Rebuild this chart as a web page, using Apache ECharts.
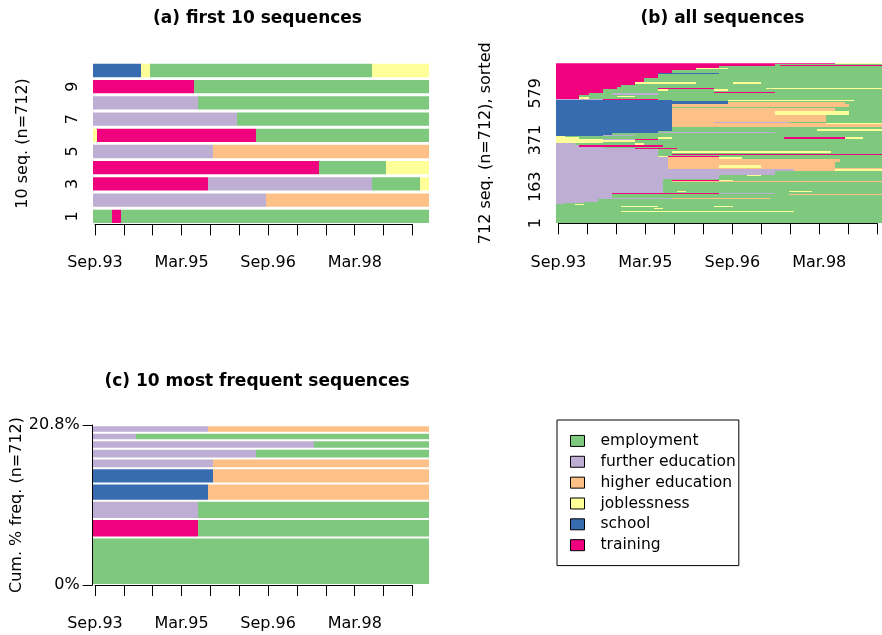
<!DOCTYPE html>
<html>
<head>
<meta charset="utf-8">
<script src="https://cdn.jsdelivr.net/npm/echarts@6/dist/echarts.min.js"></script>
<style>html,body{margin:0;padding:0;background:#fff}#c{width:882px;height:635px}</style>
</head>
<body>
<div id="c"></div>
<script>
// ---------- data ----------
const STATES = ['EM', 'FE', 'HE', 'JL', 'SC', 'TR'];
const STATE_LABELS = ['employment', 'further education', 'higher education', 'joblessness', 'school', 'training'];
const STATE_COLORS = ['#7FC97F', '#BEAED4', '#FDC086', '#FFFF99', '#386CB0', '#F0027F'];
const N_MONTHS = 70;
const TICK_MONTHS = [0, 6, 12, 18, 24, 30, 36, 42, 48, 54, 60, 66];
const TICK_LABELS = ['Sep.93', '', '', 'Mar.95', '', '', 'Sep.96', '', '', 'Mar.98', '', ''];

// (a) first 10 sequences, bottom (1) to top (10); "STATEend" spells in months
const FIRST10 = [
  'EM4 TR6 EM70',
  'FE36 HE70',
  'TR24 FE58 EM68 JL70',
  'TR47 EM61 JL70',
  'FE25 HE70',
  'JL1 TR34 EM70',
  'FE30 EM70',
  'FE22 EM70',
  'TR21 EM70',
  'SC10 JL12 EM58 JL70'
];
const Y_LABELS_A = [1, 3, 5, 7, 9];

// (b) all 712 sequences, sorted: groups of rows [fromRow, toRow, spells]
const ALL_BANDS = [
  [0, 50, 'EM70'],
  [50, 56, 'EM14 JL51 EM70'],
  [56, 63, 'EM70'],
  [63, 67, 'EM21 JL23 EM70'],
  [67, 73, 'EM70'],
  [73, 78, 'EM14 JL22 EM34 JL38 EM70'],
  [78, 81, 'EM70'],
  [81, 85, 'EM4 JL6 EM70'],
  [85, 89, 'FE2 EM70'],
  [89, 95, 'FE6 EM70'],
  [95, 106, 'FE9 EM70'],
  [106, 110, 'FE9 EM34 HE46 EM48 JL51 EM70'],
  [110, 114, 'FE25 HE46 EM70'],
  [114, 124, 'FE12 EM70'],
  [124, 127, 'FE12 EM18 JL19 EM70'],
  [127, 131, 'FE12 EM50 HE70'],
  [131, 135, 'FE12 TR35 FE47 EM70'],
  [135, 139, 'FE23 EM70'],
  [139, 142, 'FE23 EM26 JL28 EM50 JL55 EM70'],
  [142, 182, 'FE23 EM70'],
  [182, 187, 'FE23 EM25 HE70'],
  [187, 192, 'FE23 EM25 TR35 JL38 EM70'],
  [192, 199, 'FE23 EM70'],
  [199, 212, 'FE35 EM70'],
  [212, 217, 'FE35 EM41 JL44 EM70'],
  [217, 232, 'FE47 EM70'],
  [232, 240, 'FE51 HE60 JL70'],
  [240, 248, 'FE24 HE70'],
  [248, 258, 'FE24 HE35 JL44 HE60 EM70'],
  [258, 272, 'FE24 HE60 EM70'],
  [272, 288, 'FE24 HE61 EM70'],
  [288, 295, 'FE24 HE35 JL40 EM70'],
  [295, 300, 'FE22 JL24 TR35 EM70'],
  [300, 305, 'FE22 EM70'],
  [305, 309, 'FE22 EM25 TR70'],
  [309, 315, 'FE22 EM70'],
  [315, 321, 'FE22 EM25 JL59 EM70'],
  [321, 330, 'FE22 EM70'],
  [330, 336, 'FE17 TR26 EM70'],
  [336, 341, 'FE10 EM70'],
  [341, 348, 'FE5 TR23 EM70'],
  [348, 356, 'FE4 EM17 JL19 EM70'],
  [356, 364, 'JL10 EM70'],
  [364, 370, 'JL17 EM70'],
  [370, 376, 'JL10 FE17 TR22 EM70'],
  [376, 382, 'JL5 EM22 JL25 EM49 TR62 JL66 EM70'],
  [382, 388, 'JL2 EM70'],
  [388, 394, 'SC10 FE17 EM70'],
  [394, 400, 'SC12 EM70'],
  [400, 406, 'SC22 FE47 EM70'],
  [406, 412, 'SC22 EM70'],
  [412, 418, 'SC25 EM56 JL70'],
  [418, 430, 'SC25 EM70'],
  [430, 440, 'SC25 HE70'],
  [440, 445, 'SC25 HE58 JL70'],
  [445, 449, 'SC25 HE34 FE50 EM70'],
  [449, 462, 'SC25 HE58 EM70'],
  [462, 466, 'SC25 EM70'],
  [466, 484, 'SC25 HE58 EM70'],
  [484, 500, 'SC25 HE47 JL63 EM70'],
  [500, 512, 'SC25 HE60 EM70'],
  [512, 517, 'SC25 EM70'],
  [517, 530, 'SC25 HE63 EM70'],
  [530, 538, 'SC37 HE62 EM70'],
  [538, 545, 'SC37 EM70'],
  [545, 549, 'SC25 EM37 JL64 EM70'],
  [549, 553, 'FE10 TR22 EM70'],
  [553, 560, 'TR5 JL7 EM70'],
  [560, 566, 'TR5 EM13 JL17 EM70'],
  [566, 571, 'TR5 EM70'],
  [571, 578, 'TR7 EM12 FE22 EM70'],
  [578, 584, 'TR10 EM34 TR47 EM70'],
  [584, 590, 'TR10 EM70'],
  [590, 596, 'TR10 EM22 JL24 EM34 JL37 EM70'],
  [596, 602, 'TR13 EM22 TR34 EM45 JL70'],
  [602, 608, 'TR13 EM70'],
  [608, 615, 'TR14 EM70'],
  [615, 622, 'TR17 EM70'],
  [622, 628, 'TR17 JL30 EM38 JL44 EM70'],
  [628, 645, 'TR19 EM70'],
  [645, 664, 'TR22 EM70'],
  [664, 670, 'TR22 SC35 EM70'],
  [670, 680, 'TR25 EM70'],
  [680, 688, 'TR30 EM70'],
  [688, 693, 'TR30 JL37 EM70'],
  [693, 700, 'TR35 EM70'],
  [700, 703, 'TR47 EM48 TR70'],
  [703, 708, 'TR47 EM70'],
  [708, 712, 'TR60 JL70']
];
const N_SEQ = 712;
const Y_LABELS_B = [1, 163, 371, 579];

// (c) 10 most frequent sequences, bottom to top, with % frequency
const TOP10 = [
  'EM70',
  'TR22 EM70',
  'FE22 EM70',
  'SC24 HE70',
  'SC25 HE70',
  'FE25 HE70',
  'FE34 EM70',
  'FE46 EM70',
  'FE9 EM70',
  'FE24 HE70'
];
const TOP10_FREQ = [6.18, 2.39, 2.39, 2.25, 1.97, 1.26, 1.26, 1.12, 0.98, 0.98];
const Y_MAX_C = 20.8;
const Y_LABELS_C = ['0%', '20.8%'];

// ---------- helpers ----------
function parseSpells(str) {
  let start = 0;
  return str.split(' ').map(tok => {
    const st = tok.slice(0, 2), end = +tok.slice(2);
    const s = [st, start, end];
    start = end;
    return s;
  });
}
const FONT = 'DejaVu Sans';
const TXT = { color: '#000', fontFamily: FONT, fontSize: 16 };

function buildData(panel) {
  const out = STATES.map(() => []);
  if (panel === 'a') {
    FIRST10.forEach((str, i) => parseSpells(str).forEach(([st, a, b]) =>
      out[STATES.indexOf(st)].push([a, b, i + 0.09, i + 0.91])));
  } else if (panel === 'b') {
    ALL_BANDS.forEach(([r0, r1, str]) => parseSpells(str).forEach(([st, a, b]) =>
      out[STATES.indexOf(st)].push([a, b, r0, r1])));
  } else {
    let cum = 0;
    TOP10.forEach((str, i) => {
      const f = TOP10_FREQ[i];
      parseSpells(str).forEach(([st, a, b]) =>
        out[STATES.indexOf(st)].push([a, b, cum, cum + f]));
      cum += f;
    });
  }
  return out;
}

function makeRender(inset, roundY) {
  return function (params, api) {
    const p0 = api.coord([api.value(0), api.value(2)]);
    const p1 = api.coord([api.value(1), api.value(3)]);
    const x0 = Math.round(p0[0]), x1 = Math.round(p1[0]);
    let yb = p0[1], yt = p1[1];
    if (roundY) { yb = Math.round(yb); yt = Math.round(yt); }
    const h = yb - yt - 2 * inset;
    if (h <= 0 || x1 <= x0) return null;
    return {
      type: 'rect',
      shape: { x: x0, y: yt + inset, width: x1 - x0, height: h },
      style: { fill: api.visual('color') }
    };
  };
}

// ---------- layout ----------
const PX_A = 4.81, PX_B = 4.83;
const grids = [
  { left: 92.6, top: 62.4, width: N_MONTHS * PX_A, height: 162 },          // 0 plot a
  { left: 95.0, top: 62.4, width: 66 * PX_A, height: 162 },                // 1 axis a
  { left: 556, top: 63.3, width: N_MONTHS * PX_B, height: 160 },           // 2 plot b
  { left: 558.4, top: 63.3, width: 66 * PX_B, height: 160 },               // 3 axis b
  { left: 92.6, top: 425, width: N_MONTHS * PX_A, height: 160 },           // 4 plot c
  { left: 95.0, top: 425, width: 66 * PX_A, height: 160 }                  // 5 axis c
];

function timeAxis(gi, offset) {
  return {
    type: 'value', gridIndex: gi, min: 0, max: 66, interval: 6, offset: offset,
    axisLine: { show: true, lineStyle: { color: '#000', width: 1 } },
    axisTick: { show: true, length: 11, lineStyle: { color: '#000', width: 1 } },
    axisLabel: {
      ...TXT, margin: 23, showMinLabel: true, showMaxLabel: true,
      formatter: v => { const i = TICK_MONTHS.indexOf(v); return i >= 0 ? TICK_LABELS[i] : ''; }
    },
    splitLine: { show: false }
  };
}
function hiddenX(gi) {
  return { type: 'value', gridIndex: gi, min: 0, max: N_MONTHS, show: false };
}
function hiddenY(gi) {
  return { type: 'value', gridIndex: gi, min: 0, max: 1, show: false };
}

const xAxes = [hiddenX(0), timeAxis(1, 7), hiddenX(2), timeAxis(3, 8.4), hiddenX(4), timeAxis(5, 7.7)];
const yAxes = [
  {
    type: 'value', gridIndex: 0, min: 0, max: FIRST10.length,
    axisLine: { show: false }, axisTick: { show: false }, splitLine: { show: false },
    axisLabel: {
      ...TXT, rotate: 90, margin: 12,
      customValues: Y_LABELS_A.map(v => v - 0.5),
      formatter: v => String(Math.round(v + 0.5))
    },
    name: '10 seq. (n=712)', nameLocation: 'middle', nameGap: 62,
    nameTextStyle: { ...TXT }
  },
  hiddenY(1),
  {
    type: 'value', gridIndex: 2, min: 0, max: N_SEQ,
    axisLine: { show: false }, axisTick: { show: false }, splitLine: { show: false },
    axisLabel: {
      ...TXT, rotate: 90, margin: 12,
      customValues: Y_LABELS_B.map(v => v - 0.5),
      formatter: v => String(Math.round(v + 0.5))
    },
    name: '712 seq. (n=712), sorted', nameLocation: 'middle', nameGap: 62,
    nameTextStyle: { ...TXT }
  },
  hiddenY(3),
  {
    type: 'value', gridIndex: 4, min: 0, max: Y_MAX_C, offset: 1,
    axisLine: { show: true, lineStyle: { color: '#000', width: 1 } },
    axisTick: { show: true, length: 10, customValues: [0, Y_MAX_C], lineStyle: { color: '#000' } },
    splitLine: { show: false },
    axisLabel: {
      ...TXT, margin: 12, customValues: [0, Y_MAX_C],
      formatter: v => (v === 0 ? Y_LABELS_C[0] : Y_LABELS_C[1])
    },
    name: 'Cum. % freq. (n=712)', nameLocation: 'middle', nameGap: 62,
    nameTextStyle: { ...TXT }
  },
  hiddenY(5)
];

const series = [];
[['a', 0, 0, false], ['b', 2, 0, true], ['c', 4, 1, false]].forEach(([panel, gi, inset, roundY]) => {
  const d = buildData(panel);
  STATES.forEach((st, k) => {
    series.push({
      type: 'custom', name: STATE_LABELS[k], xAxisIndex: gi, yAxisIndex: gi,
      itemStyle: { color: STATE_COLORS[k] },
      renderItem: makeRender(inset, roundY),
      encode: { x: [0, 1], y: [2, 3] },
      data: d[k], clip: true, silent: true
    });
  });
});

const titleStyle = { color: '#000', fontFamily: FONT, fontSize: 17, fontWeight: 'bold' };
const option = {
  animation: false,
  backgroundColor: '#fff',
  title: [
    { text: '(a) first 10 sequences', left: 257.5, top: 10, textAlign: 'center', padding: 0, textStyle: titleStyle },
    { text: '(b) all sequences', left: 722.5, top: 10, textAlign: 'center', padding: 0, textStyle: titleStyle },
    { text: '(c) 10 most frequent sequences', left: 257, top: 373, textAlign: 'center', padding: 0, textStyle: titleStyle }
  ],
  legend: {
    orient: 'vertical', left: 557, top: 420,
    data: STATE_LABELS, icon: 'rect', itemWidth: 14, itemHeight: 11, itemGap: 0,
    padding: [10.5, 3, 10, 13],
    borderColor: '#000', borderWidth: 1,
    itemStyle: { borderColor: '#000', borderWidth: 1 },
    textStyle: { ...TXT, fontSize: 15.5, lineHeight: 20.85, padding: [0, 0, 0, 11] },
    selectedMode: false
  },
  grid: grids,
  xAxis: xAxes,
  yAxis: yAxes,
  series: series
};

const chart = echarts.init(document.getElementById('c'), null, { renderer: 'canvas' });
chart.setOption(option);
</script>
</body>
</html>
